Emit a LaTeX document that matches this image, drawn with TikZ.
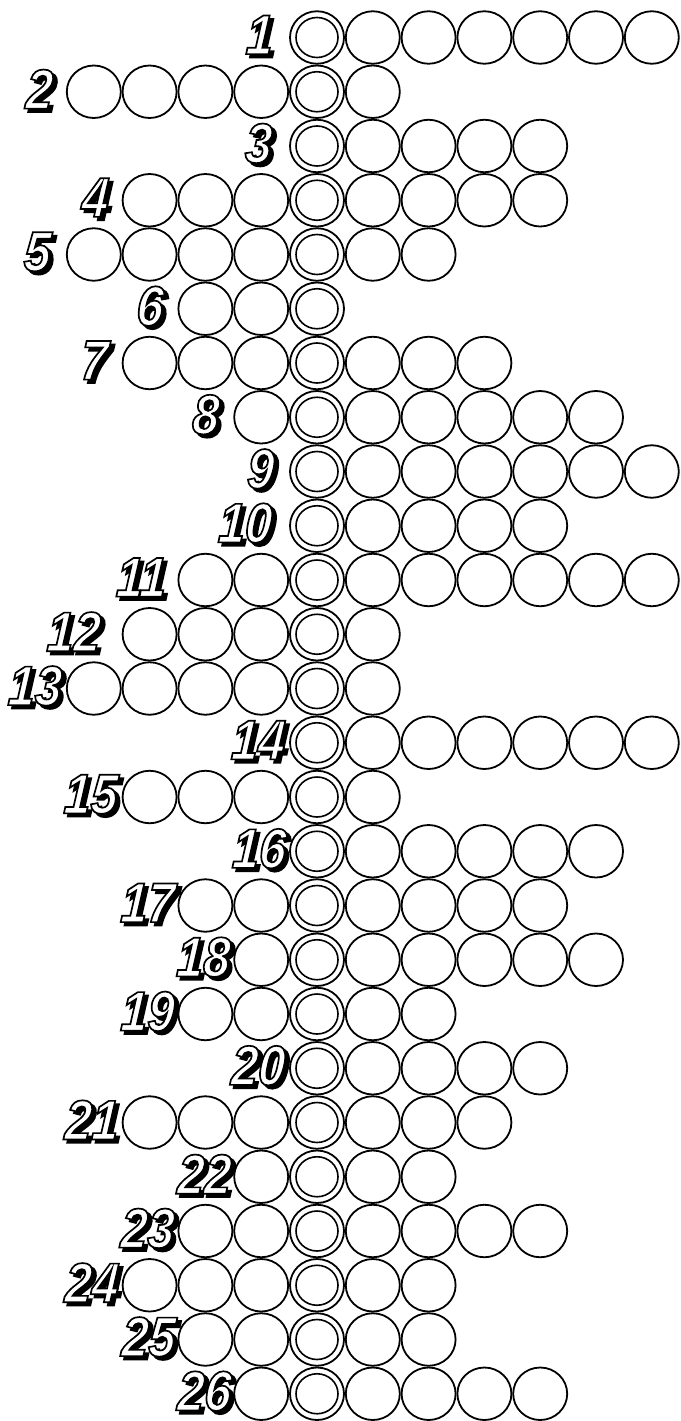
\documentclass[tikz,border=0pt]{standalone}
\usepackage{fontspec}
\newfontfamily\labfont{Liberation Sans Bold Italic}[FakeStretch=0.86,FakeBold=3,FakeSlant=0.06]
\usetikzlibrary{shapes.geometric}
\tikzset{
  cell/.style={ellipse, draw=black, line width=1.8pt, minimum width=54pt, minimum height=52.5pt, inner sep=0pt},
  midcell/.style={cell},
  ring/.style={draw=black, line width=1.6pt},
  numlab/.style={anchor=east, inner sep=0pt, outer sep=0pt, font=\labfont\fontsize{56}{56}\selectfont},
}
\newcommand\deco[1]{%
  \rlap{\kern3.8pt\raisebox{-3.3pt}{\color{black}#1}}%
  \special{pdf:bc [1 1 1] [0 0 0]}#1\special{pdf:ec}}
\begin{document}
\begin{tikzpicture}[x=1pt,y=-1pt]
\path[fill=white] (0,0) rectangle (680,1421);
\useasboundingbox (0,0) rectangle (680,1421);
\foreach \i/\L/\R/\gap in {1/0/6/13, 2/4/1/10, 3/0/4/14, 4/3/4/10, 5/4/2/12, 6/2/0/11, 7/3/3/11, 8/1/5/11, 9/0/6/12, 10/0/4/14, 11/2/6/8, 12/3/1/18, 13/4/1/1, 14/0/6/1, 15/3/1/1, 16/0/5/0, 17/2/4/0, 18/1/5/0, 19/2/2/0, 20/0/4/1, 21/3/3/0, 22/1/2/-1, 23/2/4/0, 24/3/2/0, 25/2/2/-1, 26/1/4/-1}{
  \pgfmathsetmacro\yy{37.5+(\i-1)*54.25}
  \pgfmathsetmacro\xr{317-55.8*\L-27.9-\gap-4}
  \pgfmathtruncatemacro\lo{-\L}
  \foreach \k in {\lo,...,\R}{
    \ifnum\k=0
      \node[midcell] (m\i) at ({317+55.8*\k},\yy) {};
      \draw[ring] (m\i.center) ellipse[x radius=21pt, y radius=20pt];
    \else
      \node[cell] (r\i_\k) at ({317+55.8*\k},\yy) {};
    \fi
  }
  \node[numlab] (n\i) at (\xr,\yy-1) {\deco{\i}};
}
\end{tikzpicture}
\end{document}
